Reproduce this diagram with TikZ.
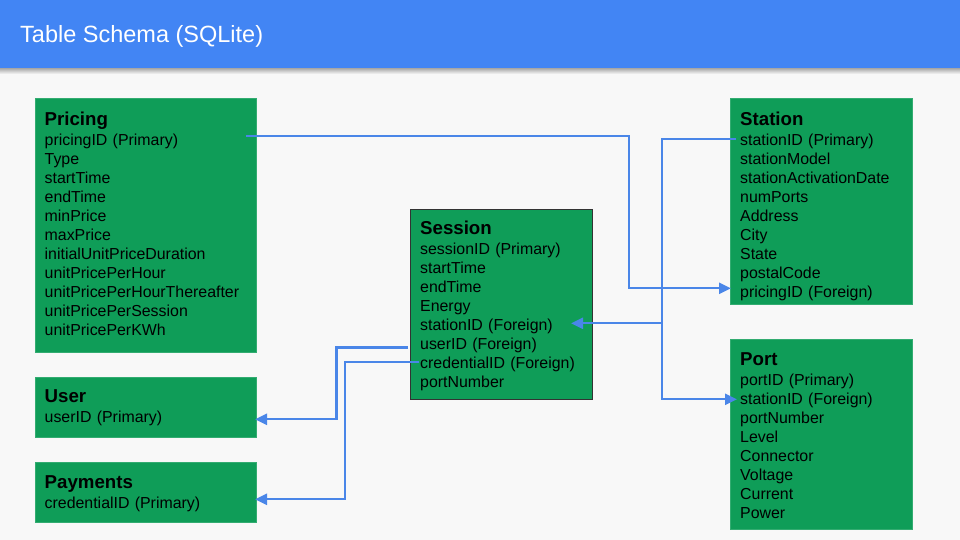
\documentclass[tikz,border=0pt]{standalone}
\usepackage{fontspec}
\setmainfont{Liberation Sans}
\usetikzlibrary{arrows.meta}
\definecolor{hdrblue}{HTML}{4285F4}
\definecolor{bgcol}{HTML}{F8F8F8}
\definecolor{tgreen}{HTML}{0F9D58}
\definecolor{linkcol}{HTML}{4A86E8}
\definecolor{sessborder}{HTML}{333333}
\begin{document}
\begin{tikzpicture}[x=1pt,y=-1pt,
  tblbox/.style={draw=tgreen!85!white, fill=tgreen, line width=0.8pt, anchor=north west, inner sep=0pt},
  tbltext/.style={anchor=base west, inner sep=0pt, text width=230pt, align=left,
                  font=\fontsize{15.9}{19}\selectfont, text=black},
  conn/.style={draw=linkcol, line width=2.2pt, -{Triangle[length=12pt,width=11pt]}}
]
\newcommand{\tblhead}[1]{{\bfseries\fontsize{18.67}{19}\selectfont #1}\\[1pt]}
% background and bounding box
\fill[bgcol] (0,0) rectangle (960,540);
\useasboundingbox (0,0) rectangle (960,540);
% header bar with shadow
\shade[top color=black!35, bottom color=bgcol] (0,68) rectangle (960,74);
\fill[hdrblue] (0,0) rectangle (960,68);
\node[anchor=base west, inner sep=0pt, text=white, font=\fontsize{23.5}{28}\selectfont] (title) at (20,43) {Table Schema (SQLite)};

% boxes
\node[tblbox, minimum width=221pt, minimum height=254pt] (pricing) at (35,98) {};
\node[tblbox, minimum width=221pt, minimum height=60pt] (user) at (35,377) {};
\node[tblbox, minimum width=221pt, minimum height=60pt] (payments) at (35,462) {};
\node[tblbox, draw=sessborder, line width=1.2pt, minimum width=182pt, minimum height=190pt] (session) at (410,209) {};
\node[tblbox, minimum width=182pt, minimum height=206pt] (station) at (730,98) {};
\node[tblbox, minimum width=182pt, minimum height=190pt] (port) at (730,339) {};

% texts
\node[tbltext] (pricingT) at (44.5,125.5) {\tblhead{Pricing}pricingID (Primary)\\Type\\startTime\\endTime\\minPrice\\maxPrice\\initialUnitPriceDuration\\unitPricePerHour\\unitPricePerHourThereafter\\unitPricePerSession\\unitPricePerKWh};
\node[tbltext] (userT) at (44.5,402.5) {\tblhead{User}userID (Primary)};
\node[tbltext] (paymentsT) at (44.5,488) {\tblhead{Payments}credentialID (Primary)};
\node[tbltext] (sessionT) at (420,234.5) {\tblhead{Session}sessionID (Primary)\\startTime\\endTime\\Energy\\stationID (Foreign)\\userID (Foreign)\\credentialID (Foreign)\\portNumber};
\node[tbltext] (stationT) at (740,125.5) {\tblhead{Station}stationID (Primary)\\stationModel\\stationActivationDate\\numPorts\\Address\\City\\State\\postalCode\\pricingID (Foreign)};
\node[tbltext] (portT) at (740,365) {\tblhead{Port}portID (Primary)\\stationID (Foreign)\\portNumber\\Level\\Connector\\Voltage\\Current\\Power};

% connector end points
\coordinate (pricingPK) at (246,136);
\coordinate (stationFK) at (731,288.3);
\coordinate (stationPK) at (736,139.3);
\coordinate (portFK) at (737,399.3);
\coordinate (sessStationFK) at (571,323.3);
\coordinate (sessUserFK) at (408,347.5);
\coordinate (sessCredFK) at (419,362.3);
\coordinate (userPK) at (255,419.3);
\coordinate (paymentsPK) at (255,499.3);

% connectors
\draw[conn] (pricingPK) -- ++(383.3,0) |- (stationFK);
\draw[conn] (stationPK) -- ++(-73.7,0) |- (portFK);
\draw[conn] (stationPK) -- ++(-73.7,0) |- (sessStationFK);
\draw[conn] (sessUserFK) -- ++(-71.5,0) |- (userPK);
\draw[conn] (sessCredFK) -- ++(-73.7,0) |- (paymentsPK);
\end{tikzpicture}
\end{document}
